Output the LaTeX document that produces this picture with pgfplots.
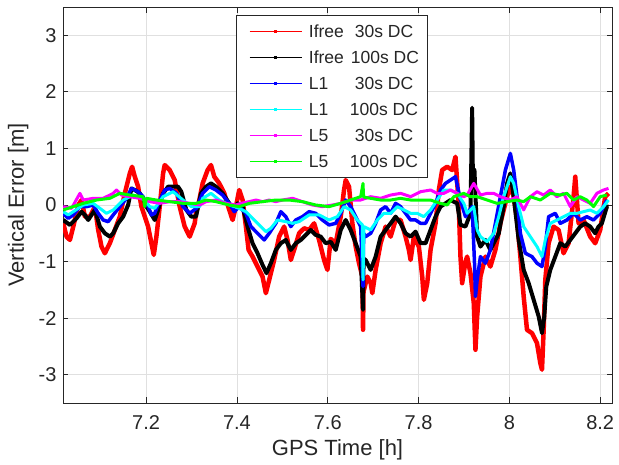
\documentclass[border=0pt]{standalone}
\usepackage{fontspec}
\setmainfont{Liberation Sans}
\usepackage{pgfplots}
\pgfplotsset{compat=1.18}
\definecolor{axgray}{rgb}{0.15,0.15,0.15}
\definecolor{gridgray}{rgb}{0.88,0.88,0.88}
\definecolor{mred}{rgb}{1,0,0}
\definecolor{mblue}{rgb}{0,0,1}
\definecolor{mcyan}{rgb}{0,1,1}
\definecolor{mmag}{rgb}{1,0,1}
\definecolor{mgreen}{rgb}{0,1,0}
\begin{document}
\begin{tikzpicture}
\begin{axis}[
  scale only axis, width=549bp, height=396bp,
  xmin=7.017, xmax=8.226, ymin=-3.5, ymax=3.5,
  xtick={7.2,7.4,7.6,7.8,8,8.2},
  xticklabels={7.2,7.4,7.6,7.8,8,8.2},
  ytick={-3,-2,-1,0,1,2,3},
  yticklabels={-3,-2,-1,0,1,2,3},
  /pgf/number format/assume math mode=true,
  xticklabel style={font=\fontsize{20bp}{24bp}\selectfont, text=axgray, yshift=-9bp},
  yticklabel style={font=\fontsize{20bp}{24bp}\selectfont, text=axgray, xshift=-3bp},
  tick align=inside, xtick pos=both, ytick pos=both,
  major tick length=5.5bp,
  tick style={axgray, line width=0.8bp},
  axis line style={axgray, line width=0.8bp},
  grid=major, grid style={gridgray, line width=0.8bp},
  xlabel={GPS Time [h]}, ylabel={Vertical Error [m]},
  every axis x label/.style={at={(axis description cs:0.5,-0.1187)}, anchor=center, font=\fontsize{22bp}{26bp}\selectfont, text=axgray},
  every axis y label/.style={at={(axis description cs:-0.0814,0.5)}, anchor=center, rotate=90, font=\fontsize{22bp}{26bp}\selectfont, text=axgray},
  legend cell align=left,
  legend style={at={(axis description cs:0.3151,0.9798)}, anchor=north west, draw=axgray, line width=0.8bp, fill=white,
    font=\fontsize{17.5bp}{21bp}\selectfont, text=axgray, inner xsep=5.5bp, inner ysep=3bp, row sep=0bp,
    nodes={inner xsep=2.5bp, inner ysep=6bp, text height=13bp, text depth=1bp}},
  legend image code/.code={
    \draw[#1,line width=1bp] (5.5bp,0bp) -- (57.5bp,0bp);
    \draw[#1,line width=2.4bp] (30.3bp,0bp) -- (32.7bp,0bp);
    \path (0bp,0bp) (60bp,0bp);
  },
  every axis plot/.append style={line join=round},
]
\coordinate (bl) at (rel axis cs:0,0);
% Ifree 30s DC
\addplot[mred, line width=4.5bp] coordinates {
(7.0176,-0.324) (7.0249,-0.560) (7.0322,-0.618) (7.0396,-0.382) (7.0506,0.000) (7.0579,0.088)
(7.0652,-0.206) (7.0762,-0.206) (7.0872,-0.029) (7.0945,-0.441) (7.1018,-0.735) (7.1092,-0.853)
(7.1201,-0.676) (7.1311,-0.441) (7.1421,-0.206) (7.1531,0.206) (7.1641,0.559) (7.1692,0.676)
(7.1751,0.500) (7.1824,0.324) (7.1897,-0.029) (7.1971,-0.206) (7.2044,-0.382) (7.2117,-0.676)
(7.2169,-0.882) (7.2227,-0.559) (7.2300,-0.029) (7.2374,0.559) (7.2410,0.706) (7.2520,0.618)
(7.2630,0.441) (7.2740,-0.029) (7.2850,-0.382) (7.2960,-0.559) (7.3070,-0.324) (7.3099,-0.147)
(7.3172,0.088) (7.3245,0.382) (7.3355,0.618) (7.3429,0.706) (7.3502,0.500) (7.3612,0.382)
(7.3722,0.206) (7.3832,-0.088) (7.3905,-0.265) (7.3978,-0.029) (7.4051,0.265) (7.4125,0.088)
(7.4198,-0.382) (7.4257,-0.794) (7.4344,-0.912) (7.4454,-1.088) (7.4564,-1.265) (7.4637,-1.559)
(7.4711,-1.324) (7.4820,-0.971) (7.4930,-0.559) (7.5040,-0.382) (7.5114,-0.618) (7.5187,-0.971)
(7.5260,-0.794) (7.5370,-0.500) (7.5480,-0.412) (7.5590,-0.441) (7.5700,-0.324) (7.5810,-0.618)
(7.5919,-0.971) (7.5993,-1.147) (7.6066,-0.600) (7.6176,-0.676) (7.6286,-0.206) (7.6359,0.265)
(7.6396,0.441) (7.6469,0.324) (7.6542,-0.324) (7.6615,-0.735) (7.6689,-1.029) (7.6762,-1.265)
(7.6777,-2.206) (7.6790,-1.400) (7.6799,-1.500) (7.6872,-1.265) (7.6945,-1.382) (7.6982,-1.559)
(7.7055,-1.147) (7.7165,-0.676) (7.7275,-0.382) (7.7385,-0.559) (7.7495,-0.265) (7.7604,-0.265)
(7.7714,-0.559) (7.7787,-0.794) (7.7824,-0.971) (7.7897,-0.559) (7.8007,-0.735) (7.8081,-1.265)
(7.8117,-1.676) (7.8191,-1.382) (7.8264,-0.794) (7.8374,-0.324) (7.8447,0.265) (7.8520,0.618)
(7.8630,0.676) (7.8740,0.618) (7.8813,0.853) (7.8886,-0.029) (7.8923,-0.912) (7.8960,-1.382)
(7.9033,-1.000) (7.9070,-0.912) (7.9143,-1.206) (7.9216,-1.735) (7.9253,-2.559) (7.9290,-1.971)
(7.9363,-1.265) (7.9473,-0.912) (7.9582,-1.088) (7.9692,-0.794) (7.9802,-0.324) (7.9875,-0.088)
(7.9949,0.147) (8.0022,0.324) (8.0095,0.147) (8.0168,-0.265) (8.0242,-0.912) (8.0315,-1.618)
(8.0388,-2.206) (8.0498,-2.265) (8.0608,-2.441) (8.0681,-2.794) (8.0718,-2.912) (8.0755,-2.206)
(8.0791,-1.324) (8.0864,-0.676) (8.0974,-0.382) (8.1084,-0.441) (8.1194,-0.853) (8.1304,-0.676)
(8.1414,0.147) (8.1451,0.500) (8.1524,-0.324) (8.1634,-0.265) (8.1780,-0.559) (8.1890,-0.676)
(8.2000,-0.441) (8.2110,0.147) (8.2183,0.206)
};
\addlegendentry{\makebox[46bp][l]{Ifree}30s DC}
% Ifree 100s DC
\addplot[black, line width=4bp] coordinates {
(7.0176,-0.265) (7.0322,-0.353) (7.0469,-0.235) (7.0579,-0.118) (7.0652,-0.176) (7.0725,-0.265)
(7.0798,-0.176) (7.0872,-0.088) (7.0982,-0.382) (7.1092,-0.500) (7.1201,-0.559) (7.1275,-0.500)
(7.1385,-0.324) (7.1495,-0.206) (7.1604,0.000) (7.1678,0.294) (7.1751,0.265) (7.1861,0.206)
(7.1934,0.118) (7.2007,-0.029) (7.2081,-0.118) (7.2190,-0.265) (7.2264,-0.088) (7.2374,0.206)
(7.2484,0.324) (7.2593,0.324) (7.2703,0.324) (7.2776,0.235) (7.2887,-0.088) (7.2996,-0.206)
(7.3099,-0.206) (7.3209,0.206) (7.3319,0.324) (7.3429,0.382) (7.3538,0.324) (7.3685,0.206)
(7.3832,0.029) (7.3941,-0.088) (7.4015,0.029) (7.4125,-0.029) (7.4234,-0.382) (7.4344,-0.676)
(7.4454,-0.853) (7.4564,-1.059) (7.4652,-1.206) (7.4747,-1.029) (7.4857,-0.794) (7.4967,-0.676)
(7.5077,-0.618) (7.5187,-0.794) (7.5297,-0.676) (7.5407,-0.618) (7.5516,-0.529) (7.5626,-0.441)
(7.5736,-0.529) (7.5846,-0.559) (7.5956,-0.676) (7.6066,-0.650) (7.6176,-0.794) (7.6286,-0.441)
(7.6396,-0.265) (7.6505,-0.441) (7.6615,-0.676) (7.6725,-0.912) (7.6777,-1.853) (7.6790,-0.950)
(7.6835,-0.971) (7.6945,-1.147) (7.7055,-0.912) (7.7165,-0.559) (7.7275,-0.441) (7.7385,-0.324)
(7.7495,-0.206) (7.7604,-0.324) (7.7714,-0.500) (7.7824,-0.559) (7.7934,-0.470) (7.8044,-0.676)
(7.8154,-0.676) (7.8264,-0.441) (7.8374,-0.206) (7.8484,-0.029) (7.8593,0.029) (7.8703,0.088)
(7.8850,0.029) (7.8923,-0.350) (7.9033,-0.382) (7.9143,-0.147) (7.9180,1.720) (7.9195,0.600)
(7.9231,0.620) (7.9290,-0.559) (7.9363,-0.735) (7.9473,-0.618) (7.9582,-0.794) (7.9656,-0.676)
(7.9766,-0.500) (7.9875,-0.029) (7.9949,0.382) (8.0022,0.559) (8.0095,0.147) (8.0205,-0.618)
(8.0315,-1.147) (8.0425,-1.382) (8.0535,-1.676) (8.0645,-1.971) (8.0718,-2.265) (8.0769,-1.971)
(8.0813,-1.441) (8.0901,-1.147) (8.1011,-0.912) (8.1121,-0.676) (8.1231,-0.735) (8.1341,-0.618)
(8.1451,-0.500) (8.1560,-0.382) (8.1670,-0.324) (8.1780,-0.382) (8.1890,-0.500) (8.1963,-0.382)
(8.2037,-0.324) (8.2147,-0.029) (8.2183,-0.029)
};
\addlegendentry{\makebox[42bp][l]{Ifree}100s DC}
% L1 30s DC
\addplot[mblue, line width=3.5bp] coordinates {
(7.0176,-0.147) (7.0286,-0.235) (7.0396,-0.176) (7.0542,-0.029) (7.0689,-0.029) (7.0835,0.000)
(7.0945,-0.147) (7.1055,-0.265) (7.1165,-0.294) (7.1275,-0.176) (7.1421,-0.029) (7.1568,0.118)
(7.1678,0.294) (7.1824,0.235) (7.1934,0.147) (7.2044,-0.029) (7.2117,-0.176) (7.2190,-0.147)
(7.2300,0.088) (7.2410,0.265) (7.2520,0.294) (7.2667,0.206) (7.2813,-0.029) (7.2960,-0.147)
(7.3106,-0.059) (7.3245,0.206) (7.3392,0.324) (7.3538,0.265) (7.3685,0.176) (7.3832,0.029)
(7.3941,-0.118) (7.4051,-0.029) (7.4198,-0.147) (7.4308,-0.382) (7.4454,-0.500) (7.4601,-0.618)
(7.4711,-0.500) (7.4857,-0.324) (7.4967,-0.118) (7.5077,-0.206) (7.5187,-0.382) (7.5297,-0.265)
(7.5444,-0.206) (7.5590,-0.118) (7.5736,-0.147) (7.5883,-0.265) (7.6029,-0.353) (7.6176,-0.324)
(7.6286,-0.147) (7.6396,0.088) (7.6505,-0.029) (7.6615,-0.206) (7.6725,-0.382) (7.6777,-1.441)
(7.6790,-0.500) (7.6835,-0.559) (7.6945,-0.500) (7.7055,-0.324) (7.7165,-0.088) (7.7275,-0.029)
(7.7385,-0.147) (7.7495,0.029) (7.7604,-0.029) (7.7714,-0.147) (7.7824,-0.265) (7.7934,-0.265)
(7.8044,-0.324) (7.8154,-0.324) (7.8264,-0.147) (7.8374,0.029) (7.8484,0.265) (7.8593,0.382)
(7.8703,0.441) (7.8813,0.500) (7.8923,0.088) (7.9033,-0.206) (7.9070,-0.147) (7.9180,-0.029)
(7.9231,-1.000) (7.9253,-1.618) (7.9290,-1.324) (7.9363,-0.912) (7.9473,-1.029) (7.9582,-0.794)
(7.9692,-0.324) (7.9802,0.147) (7.9912,0.618) (8.0022,0.912) (8.0095,0.618) (8.0168,0.147)
(8.0242,-0.500) (8.0352,-0.853) (8.0498,-0.912) (8.0608,-1.029) (8.0718,-1.088) (8.0791,-0.735)
(8.0864,-0.206) (8.1011,-0.147) (8.1121,-0.324) (8.1267,-0.265) (8.1414,-0.147) (8.1560,-0.265)
(8.1707,-0.206) (8.1853,-0.265) (8.2000,-0.147) (8.2147,0.088)
};
\addlegendentry{\makebox[46bp][l]{L1}30s DC}
% L1 100s DC
\addplot[mcyan, line width=3bp] coordinates {
(7.0176,-0.118) (7.0286,-0.176) (7.0396,-0.118) (7.0615,0.000) (7.0835,0.029) (7.0982,-0.059)
(7.1128,-0.147) (7.1275,-0.088) (7.1495,0.088) (7.1714,0.176) (7.1934,0.118) (7.2081,-0.029)
(7.2190,-0.059) (7.2374,0.147) (7.2593,0.235) (7.2813,0.088) (7.2996,-0.029) (7.3180,-0.029)
(7.3245,0.118) (7.3429,0.206) (7.3612,0.088) (7.3832,0.000) (7.4051,-0.059) (7.4198,-0.118)
(7.4344,-0.235) (7.4527,-0.382) (7.4637,-0.471) (7.4747,-0.412) (7.4894,-0.265) (7.5077,-0.294)
(7.5224,-0.324) (7.5370,-0.294) (7.5590,-0.176) (7.5810,-0.176) (7.6029,-0.265) (7.6212,-0.206)
(7.6359,-0.029) (7.6505,-0.088) (7.6652,-0.265) (7.6762,-0.350) (7.6777,-1.324) (7.6799,-0.382)
(7.6945,-0.441) (7.7092,-0.265) (7.7238,-0.147) (7.7385,-0.147) (7.7531,-0.029) (7.7677,-0.088)
(7.7824,-0.147) (7.7971,-0.147) (7.8117,-0.206) (7.8264,-0.088) (7.8410,0.088) (7.8557,0.265)
(7.8703,0.265) (7.8850,0.206) (7.8996,0.029) (7.9070,-0.147) (7.9216,-0.029) (7.9290,-0.441)
(7.9363,-0.559) (7.9509,-0.650) (7.9656,-0.500) (7.9766,-0.206) (7.9875,0.147) (8.0022,0.500)
(8.0095,0.382) (8.0205,-0.029) (8.0315,-0.382) (8.0462,-0.559) (8.0608,-0.735) (8.0718,-0.912)
(8.0791,-0.618) (8.0901,-0.324) (8.1048,-0.265) (8.1194,-0.206) (8.1341,-0.147) (8.1487,-0.147)
(8.1634,-0.118) (8.1780,-0.088) (8.1927,-0.147) (8.2073,-0.029) (8.2183,0.088)
};
\addlegendentry{\makebox[41bp][l]{L1}100s DC}
% L5 30s DC
\addplot[mmag, line width=3bp] coordinates {
(7.0176,-0.029) (7.0359,-0.059) (7.0542,0.206) (7.0615,0.088) (7.0835,0.118) (7.1055,0.118)
(7.1275,0.206) (7.1348,0.265) (7.1458,0.176) (7.1641,0.147) (7.1861,0.118) (7.2081,0.059)
(7.2300,0.029) (7.2520,0.059) (7.2740,0.059) (7.2960,0.029) (7.3180,0.000) (7.3319,0.059)
(7.3538,0.088) (7.3758,0.029) (7.3978,0.000) (7.4088,0.029) (7.4271,0.059) (7.4418,0.088)
(7.4564,0.059) (7.4711,0.088) (7.4857,0.059) (7.5004,0.088) (7.5224,0.118) (7.5444,0.059)
(7.5663,0.000) (7.5883,-0.029) (7.6103,0.000) (7.6286,0.029) (7.6505,0.088) (7.6725,0.088)
(7.6945,0.147) (7.7165,0.118) (7.7385,0.176) (7.7604,0.206) (7.7824,0.147) (7.8044,0.235)
(7.8264,0.265) (7.8410,0.206) (7.8557,0.206) (7.8703,0.265) (7.8850,0.206) (7.8996,0.147)
(7.9070,0.176) (7.9216,0.382) (7.9363,0.176) (7.9509,0.206) (7.9656,0.206) (7.9802,0.147)
(8.0022,0.088) (8.0168,0.147) (8.0315,-0.088) (8.0462,0.147) (8.0608,0.235) (8.0755,0.176)
(8.0901,0.265) (8.1048,0.147) (8.1194,0.206) (8.1341,-0.029) (8.1487,0.147) (8.1634,0.088)
(8.1780,0.029) (8.1927,0.206) (8.2073,0.265) (8.2183,0.294)
};
\addlegendentry{\makebox[46bp][l]{L5}30s DC}
% L5 100s DC
\addplot[mgreen, line width=3bp] coordinates {
(7.0176,-0.088) (7.0396,-0.029) (7.0615,0.029) (7.0908,0.088) (7.1201,0.118) (7.1421,0.206)
(7.1641,0.176) (7.1934,0.147) (7.1971,-0.029) (7.2007,0.118) (7.2227,0.088) (7.2520,0.059)
(7.2813,0.029) (7.3106,0.029) (7.3319,0.088) (7.3538,0.059) (7.3832,0.000) (7.4051,-0.029)
(7.4271,0.029) (7.4564,0.059) (7.4857,0.088) (7.5150,0.088) (7.5444,0.059) (7.5736,0.000)
(7.6029,-0.029) (7.6286,0.029) (7.6505,0.088) (7.6725,0.147) (7.6777,0.382) (7.6790,0.140)
(7.6945,0.118) (7.7165,0.088) (7.7385,0.088) (7.7604,0.118) (7.7824,0.088) (7.8044,0.088)
(7.8264,0.088) (7.8484,0.029) (7.8630,0.000) (7.8777,0.147) (7.8996,0.206) (7.9143,0.147)
(7.9290,0.147) (7.9509,0.088) (7.9729,0.029) (7.9949,0.059) (8.0168,0.088) (8.0315,0.059)
(8.0462,0.147) (8.0681,0.088) (8.0901,0.206) (8.1121,0.176) (8.1267,0.206) (8.1414,0.088)
(8.1560,0.147) (8.1707,0.088) (8.1853,-0.029) (8.2000,0.147) (8.2147,0.176)
};
\addlegendentry{\makebox[41bp][l]{L5}100s DC}
\end{axis}
\pgfresetboundingbox
\path (bl) ++(-63bp,-62bp) rectangle ++(619bp,465bp);
\end{tikzpicture}
\end{document}
